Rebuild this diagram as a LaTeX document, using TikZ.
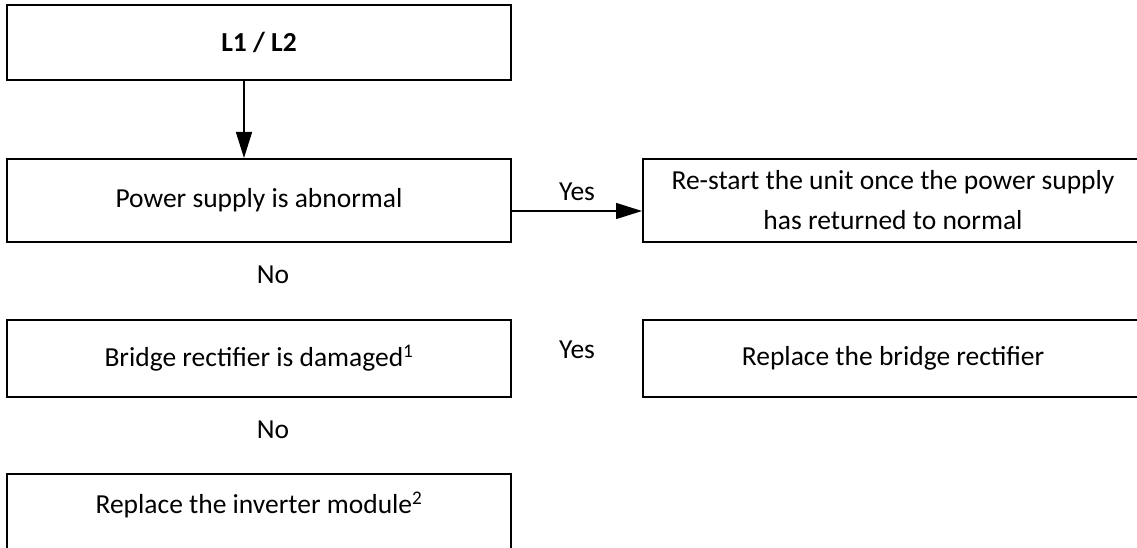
\documentclass[tikz,border=0pt]{standalone}
\usepackage{fontspec}
\setmainfont{Carlito}
\usetikzlibrary{arrows.meta}

\begin{document}
\begin{tikzpicture}[x=1pt, y=-1pt,
  txt/.style={font=\fontsize{27.5}{40}\selectfont, align=center},
  box/.style={draw, line width=2pt, inner sep=0pt, txt},
  arr/.style={line width=1.3pt, -{Triangle[length=26pt, width=16pt]}}]
  \useasboundingbox (0,0) rectangle (1137,548);
  \clip (0,0) rectangle (1137,548);
  % --- Left column ---
  \node[box, minimum width=504pt, minimum height=75pt] (l1l2) at (259,42.5) {\bfseries L1 / L2};
  \node[box, minimum width=504pt, minimum height=83pt] (power) at (259,200.5) {Power supply is abnormal};
  \node[box, minimum width=504pt, minimum height=77pt] (bridge) at (259,358.5) {Bridge rectifier is damaged\textsuperscript{1}};
  \node[box, minimum width=504pt, minimum height=90pt,
    label={[txt, yshift=14pt]center:Replace the inverter module\textsuperscript{2}}]
    (inverter) at (259,519) {};
  % --- Right column ---
  \node[box, anchor=west, minimum width=500pt, minimum height=83pt] (restart) at (642,200.5)
    {Re-start the unit once the power supply\\has returned to normal};
  \node[box, anchor=west, minimum width=500pt, minimum height=77pt] (rectifier) at (642,358.5) {Replace the bridge rectifier};
  % --- Yes / No labels ---
  \node[txt] (yes1) at (577,192) {Yes};
  \node[txt] (no1) at (273,275) {No};
  \node[txt] (yes2) at (577,350) {Yes};
  \node[txt] (no2) at (273,430) {No};
  % --- Arrows ---
  \draw[arr] ([xshift=-15pt]l1l2.south) -- ([xshift=-15pt]power.north);
  \draw[arr] ([yshift=-10.5pt]power.east) -- ([yshift=-10.5pt]restart.west);
\end{tikzpicture}
\end{document}
